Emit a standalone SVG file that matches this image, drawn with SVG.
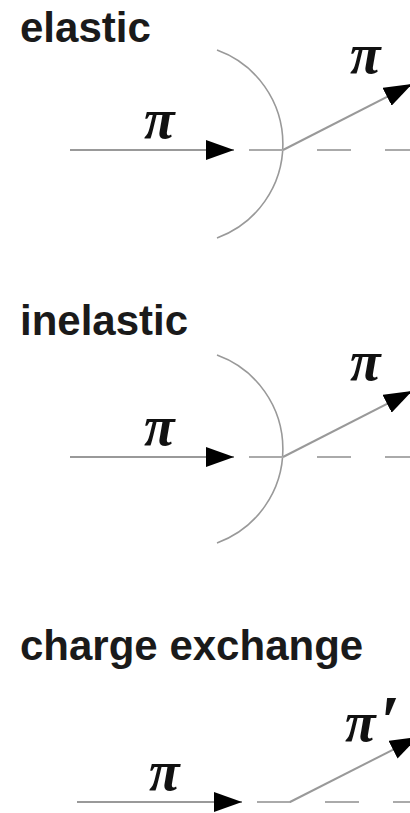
<svg xmlns="http://www.w3.org/2000/svg" width="410" height="813" viewBox="0 0 410 813">
<style>
.title{font-family:"Liberation Sans",Arial,sans-serif;font-weight:bold;font-size:42px;fill:#1a1a1a}
.pi{font-family:"Liberation Serif","Times New Roman",serif;font-style:italic;font-weight:bold;font-size:56px;fill:#111}
.ln{stroke:#999;stroke-width:2;fill:none}
.ds{stroke:#aaa;stroke-width:2;fill:none;stroke-dasharray:34 34}
.arc{stroke:#999;stroke-width:1.6;fill:none}
</style>
<defs>
<marker id="ah" markerUnits="userSpaceOnUse" markerWidth="28" markerHeight="20" refX="28" refY="10" orient="auto" viewBox="0 0 28 20">
<path d="M0,0 L28,10 L0,20 z" fill="#000"/>
</marker>
</defs>
<rect width="410" height="813" fill="#fff"/>
<g id="labels">
<text class="title" x="20" y="42">elastic</text>
<text class="title" x="20" y="335">inelastic</text>
<text class="title" x="20" y="660">charge exchange</text>
</g>
<g id="targets">
<path class="arc" d="M217,50 A100,100 0 0 1 217,238"/>
<path class="arc" d="M217,355 A100,100 0 0 1 217,543"/>
</g>
<g id="connectors">
<line class="ln" x1="70" y1="150" x2="234" y2="150" marker-end="url(#ah)"/>
<line class="ds" x1="249" y1="150" x2="410" y2="150"/>
<line class="ln" x1="283" y1="150" x2="412" y2="84" marker-end="url(#ah)"/>
<line class="ln" x1="70" y1="457" x2="234" y2="457" marker-end="url(#ah)"/>
<line class="ds" x1="249" y1="457" x2="410" y2="457"/>
<line class="ln" x1="283" y1="457" x2="412" y2="391" marker-end="url(#ah)"/>
<line class="ln" x1="77" y1="802" x2="242" y2="802" marker-end="url(#ah)"/>
<line class="ds" x1="257" y1="802" x2="410" y2="802"/>
<line class="ln" x1="290" y1="802" x2="418" y2="737" marker-end="url(#ah)"/>
</g>
<g id="pions">
<text class="pi" x="144" y="138">π</text>
<text class="pi" x="350" y="73">π</text>
<text class="pi" x="144" y="445">π</text>
<text class="pi" x="350" y="380">π</text>
<text class="pi" x="149" y="790">π</text>
<text class="pi" x="345" y="741">π<tspan dx="4" dy="4" font-size="72">′</tspan></text>
</g>
</svg>
